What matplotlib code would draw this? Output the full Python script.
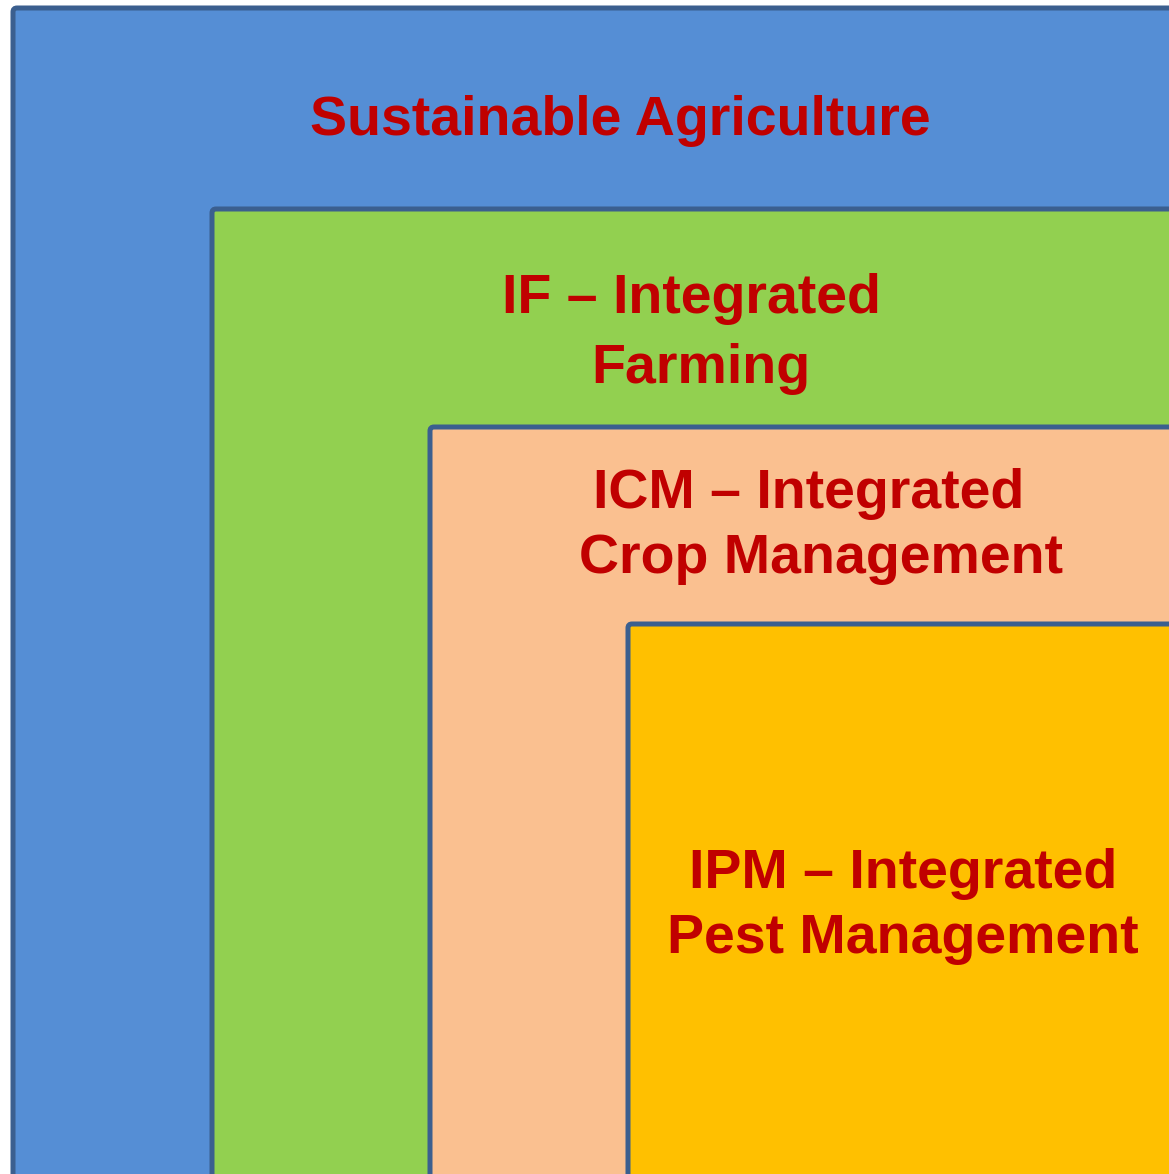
"""Nested concept boxes: Sustainable Agriculture > IF > ICM > IPM."""

import matplotlib

matplotlib.use("Agg")

import matplotlib.pyplot as plt
from matplotlib.patches import FancyBboxPatch

plt.rcParams["font.family"] = ["Liberation Sans", "DejaVu Sans"]

# content
LEVELS = ["Sustainable Agriculture", "IF", "ICM", "IPM"]
LABEL_LINES = [
    ["Sustainable Agriculture"],
    ["IF \u2013 Integrated", "Farming"],
    ["ICM \u2013 Integrated", "Crop Management"],
    ["IPM \u2013 Integrated", "Pest Management"],
]

# layout (pixels, origin top-left)
W, H = 1169, 1174
BOX_CORNERS = [(13, 8), (212, 209), (430, 427), (628, 624)]
LINE_ANCHORS = [
    [(620, 135)],
    [(691, 313), (701, 383)],
    [(809, 508), (821, 573)],
    [(903, 888), (903, 953)],
]
FILL_COLORS = ["#558ed5", "#92d050", "#fac090", "#ffc000"]
EDGE_COLOR = "#3b5f8f"
TEXT_COLOR = "#c00000"

fig = plt.figure(figsize=(W / 100, H / 100), dpi=100)
ax = fig.add_axes([0, 0, 1, 1])
ax.set_xlim(0, W)
ax.set_ylim(H, 0)
ax.axis("off")

for (x0, y0), color in zip(BOX_CORNERS, FILL_COLORS):
    box = FancyBboxPatch(
        (x0, y0), W + 200 - x0, H + 200 - y0,
        boxstyle="round,pad=0,rounding_size=4",
        facecolor=color, edgecolor=EDGE_COLOR, linewidth=3.6,
    )
    ax.add_patch(box)

for lines, anchors in zip(LABEL_LINES, LINE_ANCHORS):
    for text, (tx, ty) in zip(lines, anchors):
        ax.text(tx, ty, text, ha="center", va="baseline", fontsize=40,
                fontweight="bold", color=TEXT_COLOR)

fig.savefig("out.png", dpi=100, facecolor="white")
